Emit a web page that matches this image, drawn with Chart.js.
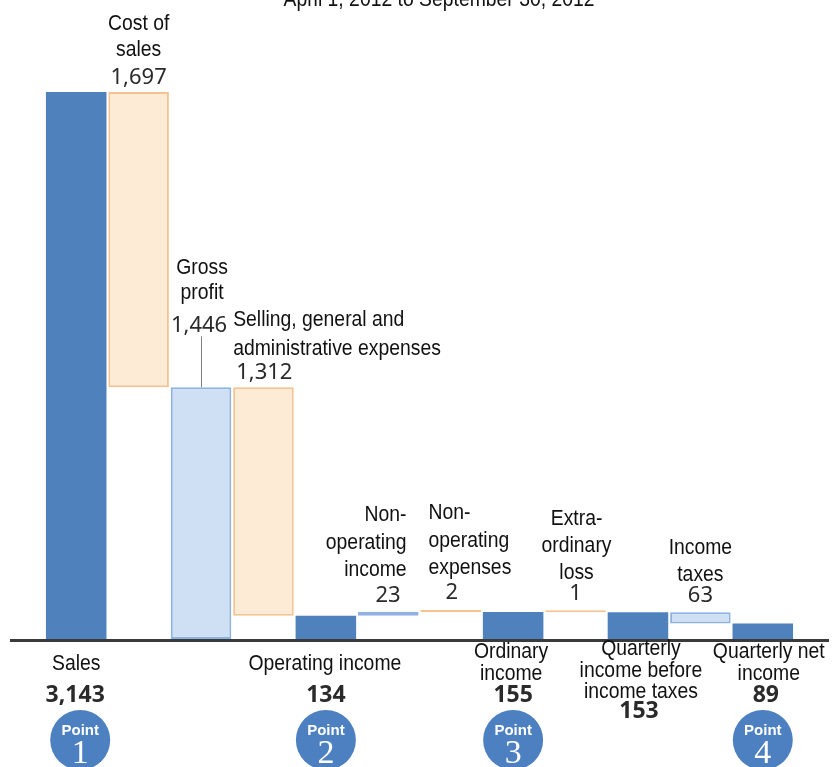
<!DOCTYPE html>
<html><head><meta charset="utf-8">
<script src="https://cdn.jsdelivr.net/npm/chart.js@4/dist/chart.umd.min.js"></script>
<style>html,body{margin:0;padding:0;background:#fff;}#wrap{width:839px;height:767px;position:relative;}</style>
</head><body><div id="wrap"><canvas id="c" width="839" height="767"></canvas></div>
<script>
// ---- data ----
const chartTitle = "April 1, 2012 to September 30, 2012";
const categories = [
  ["Sales"], ["Cost of","sales"], ["Gross","profit"],
  ["Selling, general and","administrative expenses"], ["Operating income"],
  ["Non-","operating","income"], ["Non-","operating","expenses"],
  ["Ordinary","income"], ["Extra-","ordinary","loss"],
  ["Quarterly","income before","income taxes"], ["Income","taxes"],
  ["Quarterly net","income"]
];
const valueLabels = ["3,143","1,697","1,446","1,312","134","23","2","155","1","153","63","89"];
const barStart = [0, 1446, 0, 134, 0, 134, 155, 0, 153, 0, 89, 0];
const barEnd   = [3143, 3143, 1446, 1446, 134, 157, 157, 155, 155, 153, 153, 89];
const barKind  = ["total","cost","light","cost","total","light","cost","total","cost","total","light","total"];
const pointNumbers = [1, null, null, null, 2, null, null, 3, null, null, null, 4];

// ---- styles / layout ----
const kindFill   = {total:'#4f81bd', light:'#cfe0f5', cost:'#fdebd6'};
const kindBorder = {total:'#4f81bd', light:'#8fb3e0', cost:'#f5c290'};
const kindBorderW= {total:0, light:2, cost:2};
const TEXT_FONT = '22px "Liberation Sans", Arial, sans-serif';
const TEXT_SX = 0.88;
const NUM_FONT = '22px "Noto Sans", "DejaVu Sans", sans-serif';
const BOLD_NUM_FONT = 'bold 23px "Noto Sans", "DejaVu Sans", sans-serif';
// per-category label layout (offsets in px relative to bar top or axis)
const labelLayout = [
  {pos:'bottom', align:'center', dx:0,  lines:[31],        valAlign:'center', valDx:-1, valDy:63, point:{dx:4}},
  {pos:'top',    align:'center', dx:0,  lines:[-62,-36],   valAlign:'center', valDx:0,  valDy:-8},
  {pos:'top',    align:'center', dx:1,  lines:[-113,-88],  valAlign:'center', valDx:-2, valDy:-55, leader:[-51,0]},
  {pos:'top',    align:'left',   dx:0,  lines:[-61,-32],   valAlign:'left',   valDx:3,  valDy:-8},
  {pos:'bottom', align:'center', dx:-1, lines:[31],        valAlign:'center', valDx:0,  valDy:63, point:{dx:0}},
  {pos:'top',    align:'right',  dx:-12,lines:[-91,-63,-36], valAlign:'right', valDx:-18, valDy:-10},
  {pos:'top',    align:'left',   dx:8,  lines:[-91,-63,-36], valAlign:'center', valDx:1, valDy:-11},
  {pos:'bottom', align:'center', dx:-2, lines:[19,41],     valAlign:'center', valDx:0,  valDy:63, point:{dx:0}},
  {pos:'top',    align:'center', dx:1,  lines:[-85,-58,-31], valAlign:'center', valDx:0, valDy:-10},
  {pos:'bottom', align:'center', dx:3,  lines:[16,38,59],  valAlign:'center', valDx:1,  valDy:79},
  {pos:'top',    align:'center', dx:0,  lines:[-58,-31],   valAlign:'center', valDx:0,  valDy:-10},
  {pos:'bottom', align:'center', dx:6,  lines:[19,41],     valAlign:'center', valDx:3,  valDy:63, point:{dx:0}}
];

const floating = barStart.map((s, i) => [s, barEnd[i]]);

function narrowText(ctx, text, x, y) {
  ctx.save();
  ctx.translate(x, y);
  ctx.scale(TEXT_SX, 1);
  ctx.fillText(text, 0, 0);
  ctx.restore();
}

const labelsPlugin = {
  id: 'wfLabels',
  afterDatasetsDraw(chart) {
    const ctx = chart.ctx;
    const meta = chart.getDatasetMeta(0);
    const yScale = chart.scales.y;
    const axisY = yScale.getPixelForValue(0);
    ctx.save();
    // axis line
    ctx.strokeStyle = '#3a3a3a';
    ctx.lineWidth = 3;
    ctx.beginPath();
    ctx.moveTo(10, axisY + 1.5);
    ctx.lineTo(829, axisY + 1.5);
    ctx.stroke();
    // title (cropped at top)
    ctx.fillStyle = '#111';
    ctx.font = TEXT_FONT;
    ctx.textAlign = 'center';
    ctx.textBaseline = 'alphabetic';
    narrowText(ctx, chartTitle, 439, 6);

    meta.data.forEach((bar, i) => {
      const L = labelLayout[i];
      const p = bar.getProps(['x','y','base','width'], true);
      const top = Math.min(p.y, p.base);
      const left = p.x - p.width / 2, right = p.x + p.width / 2;
      const refY = L.pos === 'top' ? top : axisY;
      const anchorX = a => a === 'left' ? left : a === 'right' ? right : p.x;
      // category text
      ctx.fillStyle = '#111';
      ctx.font = TEXT_FONT;
      ctx.textAlign = L.align;
      ctx.textBaseline = 'alphabetic';
      categories[i].forEach((line, k) => {
        narrowText(ctx, line, anchorX(L.align) + L.dx, refY + L.lines[k]);
      });
      // value
      ctx.fillStyle = '#2a2a2a';
      ctx.font = L.pos === 'bottom' ? BOLD_NUM_FONT : NUM_FONT;
      ctx.textAlign = L.valAlign;
      ctx.fillText(valueLabels[i], anchorX(L.valAlign) + L.valDx, refY + L.valDy);
      // leader line
      if (L.leader) {
        ctx.strokeStyle = '#808080';
        ctx.lineWidth = 1;
        ctx.beginPath();
        ctx.moveTo(Math.round(p.x) + 0.5, top + L.leader[0]);
        ctx.lineTo(Math.round(p.x) + 0.5, top + L.leader[1]);
        ctx.stroke();
      }
      // point badge
      if (pointNumbers[i] != null) {
        const cx = p.x + L.point.dx, cy = axisY + 101;
        ctx.fillStyle = '#4d80c0';
        ctx.beginPath();
        ctx.arc(cx, cy, 30, 0, Math.PI * 2);
        ctx.fill();
        ctx.fillStyle = '#fff';
        ctx.textAlign = 'center';
        ctx.font = 'bold 15px "Liberation Sans", Arial, sans-serif';
        ctx.fillText('Point', cx, cy - 5);
        ctx.font = '34px "Liberation Serif", "Times New Roman", serif';
        ctx.fillText(String(pointNumbers[i]), cx, cy + 23);
      }
    });
    ctx.restore();
  }
};

new Chart(document.getElementById('c'), {
  type: 'bar',
  data: {
    labels: categories.map(c => c.join(' ')),
    datasets: [{
      data: floating,
      backgroundColor: barKind.map(k => kindFill[k]),
      borderColor: barKind.map(k => kindBorder[k]),
      borderWidth: barKind.map(k => kindBorderW[k]),
      borderSkipped: false,
      minBarLength: 2,
      barPercentage: 0.97,
      categoryPercentage: 1.0
    }]
  },
  options: {
    responsive: false,
    animation: false,
    layout: {padding: {left: 45, right: 45, top: 92, bottom: 128}},
    plugins: {legend: {display: false}, tooltip: {enabled: false}, title: {display: false}},
    scales: {
      x: {display: false},
      y: {display: false, min: 0, max: 3143}
    }
  },
  plugins: [labelsPlugin]
});
</script>
</body></html>
